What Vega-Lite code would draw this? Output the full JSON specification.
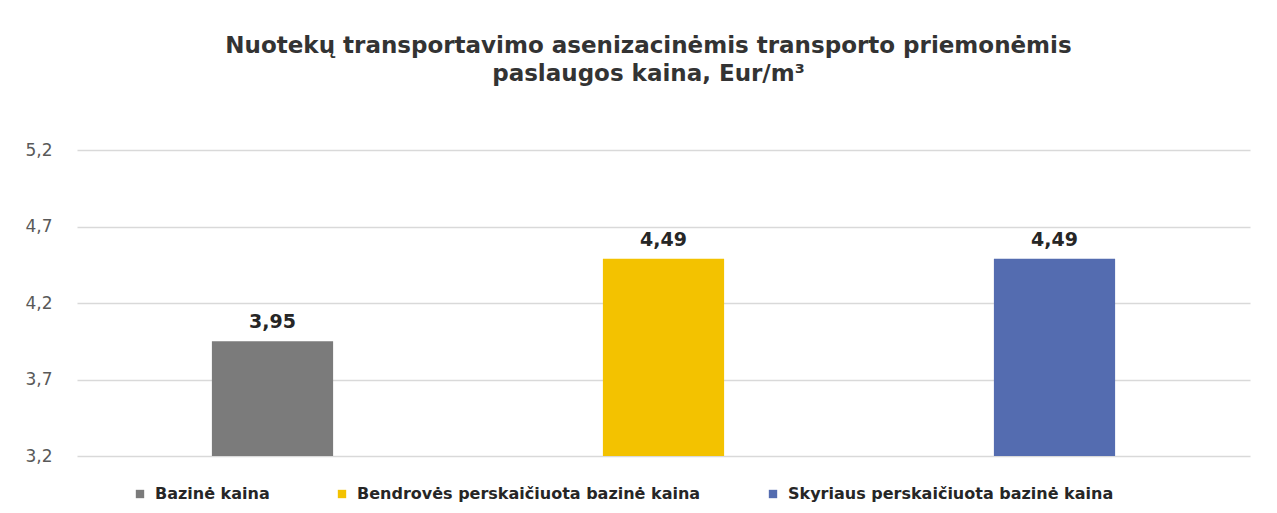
{
  "$schema": "https://vega.github.io/schema/vega-lite/v6.json",
  "autosize": "none",
  "width": 1173,
  "height": 306,
  "padding": {"left": 77, "top": 150, "right": 27, "bottom": 57},
  "background": "white",
  "title": {
    "text": ["Nuotekų transportavimo asenizacinėmis transporto priemonėmis", "paslaugos kaina, Eur/m³"],
    "font": "DejaVu Sans",
    "fontSize": 23,
    "fontWeight": "bold",
    "color": "#333333",
    "lineHeight": 28,
    "offset": 55,
    "dx": -15,
    "anchor": "middle"
  },
  "data": {
    "values": [
      {"kategorija": "Bazinė kaina", "kaina": 3.95},
      {"kategorija": "Bendrovės perskaičiuota bazinė kaina", "kaina": 4.49},
      {"kategorija": "Skyriaus perskaičiuota bazinė kaina", "kaina": 4.49}
    ]
  },
  "encoding": {
    "x": {
      "field": "kategorija",
      "type": "nominal",
      "sort": null,
      "axis": null,
      "scale": {"paddingInner": 0.69, "paddingOuter": 0.345}
    },
    "y": {
      "field": "kaina",
      "type": "quantitative",
      "scale": {"domain": [3.2, 5.2], "zero": false, "nice": false},
      "axis": {
        "values": [3.2, 3.7, 4.2, 4.7, 5.2],
        "format": ".1f",
        "title": null,
        "domain": false,
        "ticks": false,
        "labelPadding": 25,
        "labelFont": "DejaVu Sans",
        "labelFontSize": 17,
        "labelColor": "#595959",
        "gridColor": "#d9d9d9",
        "gridWidth": 1.5
      }
    }
  },
  "layer": [
    {
      "mark": {"type": "bar", "clip": true},
      "encoding": {
        "color": {
          "field": "kategorija",
          "type": "nominal",
          "sort": null,
          "scale": {
            "domain": ["Bazinė kaina", "Bendrovės perskaičiuota bazinė kaina", "Skyriaus perskaičiuota bazinė kaina"],
            "range": ["#7b7b7b", "#f3c200", "#546cb0"]
          },
          "legend": {
            "title": null,
            "orient": "none",
            "direction": "horizontal",
            "legendX": 55,
            "legendY": 336,
            "symbolType": "square",
            "symbolSize": 70,
            "symbolStrokeWidth": 0,
            "labelFont": "DejaVu Sans",
            "labelFontSize": 16,
            "labelFontWeight": "bold",
            "labelColor": "#262626",
            "labelLimit": 600,
            "columnPadding": 64,
            "labelOffset": 7
          }
        }
      }
    },
    {
      "mark": {
        "type": "text",
        "baseline": "bottom",
        "dy": -9,
        "font": "DejaVu Sans",
        "fontSize": 19,
        "fontWeight": "bold",
        "color": "#262626"
      },
      "encoding": {
        "text": {"field": "kaina", "type": "quantitative", "format": ".2f"}
      }
    }
  ],
  "config": {
    "view": {"stroke": null},
    "locale": {
      "number": {"decimal": ",", "thousands": " ", "grouping": [3], "currency": ["", " €"]}
    }
  }
}
